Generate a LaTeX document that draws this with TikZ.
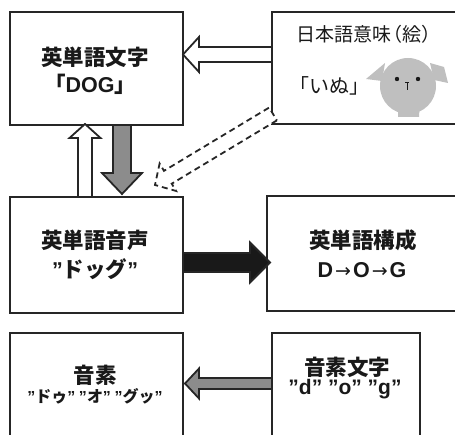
\documentclass[tikz,border=0pt]{standalone}
\usepackage{fontspec}
\setmainfont{Noto Sans CJK JP}
\newfontfamily\lat{Liberation Sans}
\newfontfamily\pfeilfont{DejaVu Sans}
\newcommand\qq{{\lat ”}}
\newcommand\pf{{\pfeilfont\mdseries\fontsize{19}{20}\selectfont\kern2pt→\kern2pt}}
\usetikzlibrary{calc}
\tikzset{
	kasten/.style={draw=black!85,line width=2.4pt,rectangle,anchor=north west,outer sep=0pt,inner sep=0pt},
	titel/.style={font=\bfseries\fontsize{21.5}{24}\selectfont,text=black!90,inner sep=0pt},
	klein/.style={font=\bfseries\fontsize{16}{19}\selectfont,text=black!90,inner sep=0pt},
	normal/.style={font=\fontsize{19}{22}\selectfont,text=black!90,inner sep=0pt},
	pfeil/.style={draw=black!85,line width=1.8pt,line join=miter},
}
% Blockpfeil: #1 Stil, #2 von, #3 nach, #4 halbe Schaftbreite, #5 halbe Kopfbreite, #6 Kopflaenge
\newcommand\blockpfeil[6]{%
	\coordinate (kb) at ($(#3)!#6!(#2)$);
	\draw[pfeil,#1] ($(#2)!#4!90:(#3)$) -- ($(kb)!#4!-90:(#2)$) -- ($(kb)!#5!-90:(#2)$) -- (#3)
		-- ($(kb)!#5!90:(#2)$) -- ($(kb)!#4!90:(#2)$) -- ($(#2)!#4!-90:(#3)$) -- cycle;}
\begin{document}
\begin{tikzpicture}[x=1pt,y=-1pt]
	\useasboundingbox (0,0) rectangle (455,435);
	\clip (0,0) rectangle (455,435);
	% Kaesten (rechts bzw. unten abgeschnitten)
	\node[kasten,minimum width=173pt,minimum height=113pt] (eigomoji) at (10,12) {};
	\node[kasten,minimum width=195pt,minimum height=112pt] (imi) at (272,12) {};
	\node[kasten,minimum width=173pt,minimum height=116pt] (onsei) at (10,197) {};
	\node[kasten,minimum width=196pt,minimum height=115pt] (kousei) at (267,196) {};
	\node[kasten,minimum width=173pt,minimum height=120pt] (onso) at (10,333) {};
	\node[kasten,minimum width=148pt,minimum height=120pt] (onsomoji) at (272,333) {};
	% Texte
	\node[titel] (eigomoji-a) at (95,57.5) {英単語文字};
	\node[titel,anchor=base] (eigomoji-b) at (90,93) {「{\lat DOG}」};
	\node[normal,anchor=west] (imi-a) at (296,34) {日本語意味\kern-0.4em（絵）};
	\node[normal,font=\fontsize{20}{22}\selectfont] (imi-b) at (329,86) {「いぬ」};
	\node[titel] (onsei-a) at (95,240) {英単語音声};
	\node[titel] (onsei-b) at (95,269) {\qq ドッグ\qq};
	\node[titel] (kousei-a) at (363,240) {英単語構成};
	\node[titel,anchor=base,font=\lat\bfseries\fontsize{21.5}{24}\selectfont] (kousei-b) at (362,278) {D\pf O\pf G};
	\node[titel] (onso-a) at (95,375) {音素};
	\node[klein] (onso-b) at (95,396) {\qq ドゥ\qq{} \qq オ\qq{} \qq グッ\qq};
	\node[titel] (onsomoji-a) at (347,367) {音素文字};
	\node[titel,anchor=base,font=\lat\bfseries\fontsize{21}{24}\selectfont] (onsomoji-b) at (345,394) {”d” ”o” ”g”};
	% Hund
	\begin{scope}[fill=black!25]
		\fill (408,86) circle (28);
		\fill (398,100) -- (420,100) -- (419,117) -- (398,117) -- cycle;
		\fill (385,63) -- (366,79) -- (382,81) -- cycle;
		\fill (430,63) -- (444,67) -- (448,83) -- (434,80) -- cycle;
	\end{scope}
	\fill[black!90] (397,79) circle (2.2) (418,79) circle (2.2);
	\draw[black!90,line width=1pt] (405,83) -- (409,83) (407,83) -- (407,90);
	% Pfeile
	\coordinate (p1s) at ($(imi.west)+(0,-13.5)$);
	\coordinate (p1e) at (eigomoji.east |- p1s);
	\blockpfeil{fill=white}{p1s}{p1e}{7.5pt}{17.5pt}{16pt}
	\coordinate (p2s) at ($(onsei.north)+(-11.5,0)$);
	\coordinate (p2e) at ($(eigomoji.south -| p2s)+(0,-1)$);
	\blockpfeil{fill=white}{p2s}{p2e}{7pt}{15.5pt}{14pt}
	\coordinate (p3s) at ($(eigomoji.south)+(25.5,0)$);
	\coordinate (p3e) at ($(onsei.north)+(25.5,-3)$);
	\blockpfeil{fill=black!45}{p3s}{p3e}{9pt}{20pt}{21pt}
	\coordinate (p4s) at ($(imi.south west)+(1,-10)$);
	\coordinate (p4e) at ($(onsei.north east)+(-28,-12)$);
	\blockpfeil{fill=white,dash pattern=on 6pt off 4pt}{p4s}{p4e}{7.5pt}{16pt}{15pt}
	\coordinate (p5s) at ($(onsei.east)+(0,7.5)$);
	\coordinate (p5e) at ($(kousei.west |- p5s)+(3,0)$);
	\blockpfeil{fill=black!90}{p5s}{p5e}{9.5pt}{20pt}{20pt}
	\coordinate (p6s) at ($(onsomoji.west)+(0,-9.5)$);
	\coordinate (p6e) at ($(onso.east |- p6s)+(2,0)$);
	\blockpfeil{fill=black!45}{p6s}{p6e}{5.5pt}{15pt}{14pt}
\end{tikzpicture}
\end{document}
